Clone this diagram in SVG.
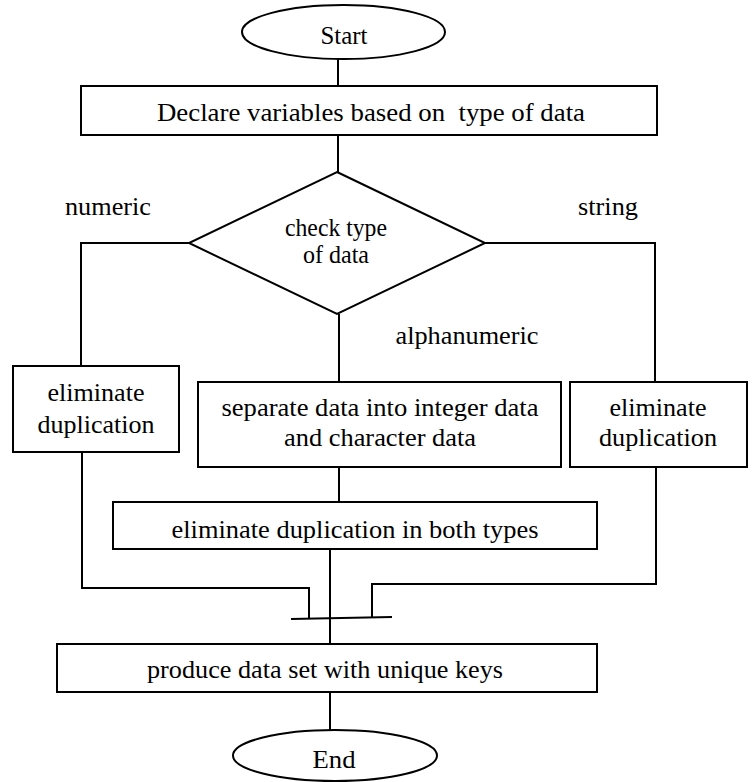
<svg xmlns="http://www.w3.org/2000/svg" width="754" height="782" viewBox="0 0 754 782" font-family="Liberation Serif, DejaVu Serif, serif" font-size="26">
<style>
.s{fill:#fff;stroke:#000;stroke-width:2}
.c{fill:none;stroke:#000;stroke-width:2}
text{fill:#000;text-anchor:middle}
</style>
<rect width="754" height="782" fill="#fff"/>
<g id="connectors">
<path class="c" d="M338 59V86"/>
<path class="c" d="M338 135V172"/>
<path class="c" d="M189 243H81V366"/>
<path class="c" d="M485 243H655V382"/>
<path class="c" d="M339 314V382"/>
<path class="c" d="M339 467V502"/>
<path class="c" d="M82 452V588H309V619"/>
<path class="c" d="M656 467V584H372V617"/>
<path class="c" d="M330 549V644"/>
<path class="c" d="M291 619L392 617"/>
<path class="c" d="M330 692V730"/>
</g>
<g id="start">
<ellipse class="s" cx="343.5" cy="32" rx="101.5" ry="27"/>
<text x="344" y="44" textLength="47" lengthAdjust="spacingAndGlyphs">Start</text>
</g>
<g id="declare">
<rect class="s" x="81" y="86" width="576" height="49"/>
<text x="371" y="121" xml:space="preserve" textLength="428" lengthAdjust="spacingAndGlyphs">Declare variables based on  type of data</text>
</g>
<g id="check">
<polygon class="s" points="337,172 485,243 337,314 189,243"/>
<text x="336" y="236" textLength="102" lengthAdjust="spacingAndGlyphs">check type</text>
<text x="336" y="263" textLength="66" lengthAdjust="spacingAndGlyphs">of data</text>
</g>
<g id="labels">
<text x="108" y="215" textLength="86" lengthAdjust="spacingAndGlyphs">numeric</text>
<text x="608" y="215" textLength="60" lengthAdjust="spacingAndGlyphs">string</text>
<text x="467" y="344" textLength="143" lengthAdjust="spacingAndGlyphs">alphanumeric</text>
</g>
<g id="elim-left">
<rect class="s" x="13" y="366" width="166" height="86"/>
<text x="96" y="401" textLength="97" lengthAdjust="spacingAndGlyphs">eliminate</text>
<text x="96" y="433" textLength="117" lengthAdjust="spacingAndGlyphs">duplication</text>
</g>
<g id="separate">
<rect class="s" x="198" y="382" width="363" height="85"/>
<text x="380" y="416" textLength="317" lengthAdjust="spacingAndGlyphs">separate data into integer data</text>
<text x="380" y="446" textLength="192" lengthAdjust="spacingAndGlyphs">and character data</text>
</g>
<g id="elim-right">
<rect class="s" x="570" y="382" width="177" height="85"/>
<text x="658" y="416" textLength="97" lengthAdjust="spacingAndGlyphs">eliminate</text>
<text x="658" y="446" textLength="118" lengthAdjust="spacingAndGlyphs">duplication</text>
</g>
<g id="elim-both">
<rect class="s" x="113" y="502" width="484" height="47"/>
<text x="355" y="538" textLength="367" lengthAdjust="spacingAndGlyphs">eliminate duplication in both types</text>
</g>
<g id="produce">
<rect class="s" x="57" y="644" width="540" height="48"/>
<text x="325" y="678" textLength="356" lengthAdjust="spacingAndGlyphs">produce data set with unique keys</text>
</g>
<g id="end">
<ellipse class="s" cx="335" cy="755.5" rx="102" ry="25.5"/>
<text x="334" y="768" textLength="43" lengthAdjust="spacingAndGlyphs">End</text>
</g>
</svg>
